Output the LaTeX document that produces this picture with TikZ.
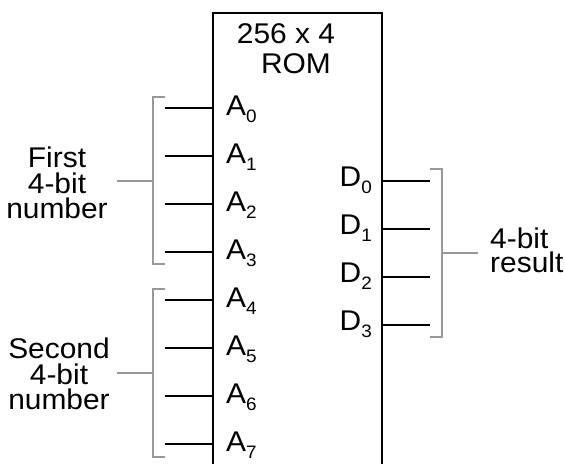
\documentclass[tikz,border=0pt]{standalone}
\usepackage{fontspec}
\setmainfont[FakeStretch=1.05]{Liberation Sans}
\newcommand{\pinsub}[2]{#1\raisebox{-7pt}{\fontsize{18}{18}\selectfont #2}}

\begin{document}
\begin{tikzpicture}[x=1pt, y=-1pt,
    wire/.style={line width=2pt},
    brace/.style={line width=1.5pt, draw=black!40},
    lbl/.style={inner sep=0pt, font=\fontsize{28.5}{25.5}\selectfont}]
    \useasboundingbox (0,0) rectangle (565,464);

    % ROM body (runs off the bottom edge)
    \draw[wire] (213,464) -- (213,13) -- (382,13) -- (382,464);
    \node[lbl, anchor=base] (size) at (286,43) {256 x 4};
    \node[lbl, anchor=base] (rom) at (296,73) {ROM};

    % Address inputs
    \foreach \i in {0,...,7} {
        \coordinate (a\i) at (213,108+48*\i);
        \coordinate (a\i in) at (165,108+48*\i);
        \draw[wire] (a\i in) -- (a\i);
        \node[lbl, anchor=base west] (la\i) at (226,115+48*\i) {\pinsub{A}{\i}};
    }

    % Data outputs
    \foreach \i in {0,...,3} {
        \coordinate (d\i) at (382,181+48*\i);
        \coordinate (d\i out) at (430,181+48*\i);
        \draw[wire] (d\i) -- (d\i out);
        \node[lbl, anchor=base east] (ld\i) at (372,186+48*\i) {\pinsub{D}{\i}};
    }

    % First operand
    \draw[brace] (165,97) -- (153,97) -- (153,264) -- (165,264);
    \coordinate (first tick) at (153,181);
    \node[lbl, align=center] (first) at (57,183) {First\\4-bit\\number};
    \draw[brace] (first tick) -- (117,181);

    % Second operand
    \draw[brace] (165,289) -- (153,289) -- (153,457) -- (165,457);
    \coordinate (second tick) at (153,373);
    \node[lbl, align=center] (second) at (59,374) {Second\\4-bit\\number};
    \draw[brace] (second tick) -- (117,373);

    % Result
    \draw[brace] (430,169) -- (442,169) -- (442,337) -- (430,337);
    \coordinate (result tick) at (442,253);
    \node[lbl, anchor=west, align=left, font=\fontsize{28.5}{24}\selectfont] (result) at (490,250) {4-bit\\result};
    \draw[brace] (result tick) -- (478,253);
\end{tikzpicture}
\end{document}
